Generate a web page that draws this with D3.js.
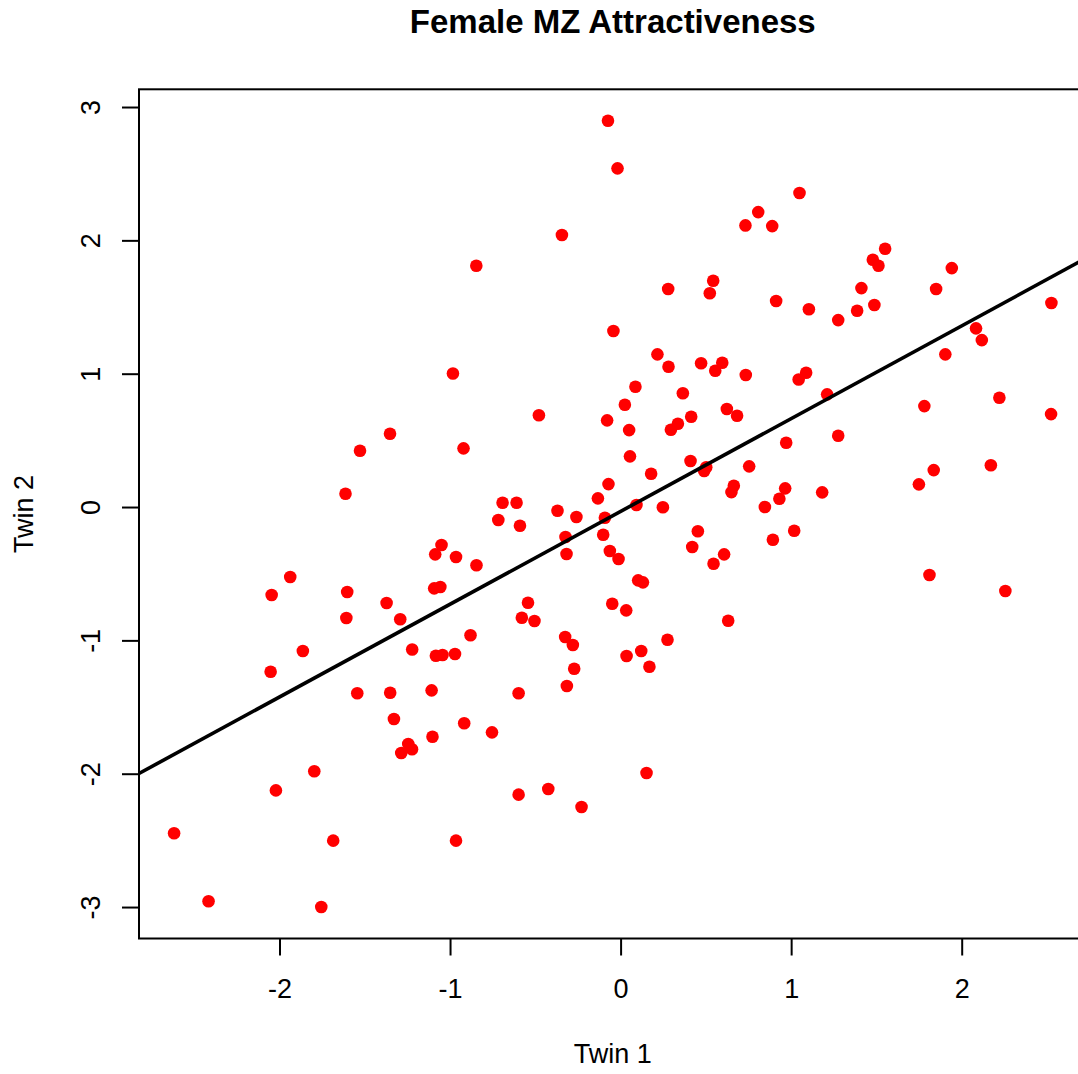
<!DOCTYPE html>
<html>
<head>
<meta charset="utf-8">
<script src="https://cdn.jsdelivr.net/npm/d3@7"></script>
<style>
  html, body { margin: 0; padding: 0; background: #fff; overflow: hidden; }
  svg { display: block; font-family: "Liberation Sans", Arial, Helvetica, sans-serif; }
</style>
</head>
<body>
<svg id="chart" width="1078" height="1074"></svg>
<script>
const chartTitle = "Female MZ Attractiveness";
const xLabel = "Twin 1";
const yLabel = "Twin 2";

const twin1 = [-0.074,-0.018,0.807,0.732,0.889,-0.344,-0.846,0.543,0.279,0.523,
  -0.042,0.216,0.281,0.472,0.596,0.555,0.734,-0.983,1.049,1.551,
  1.479,1.512,1.942,1.412,1.850,0.912,1.104,1.387,1.488,1.276,
  2.526,2.084,2.118,1.904,1.088,1.044,-1.352,-1.528,-1.613,-1.050,
  -1.087,-0.965,-1.937,-2.046,-1.603,-1.093,-1.057,-1.372,-1.608,-1.292,
  -1.863,-1.222,-1.083,-1.044,-0.971,0.087,0.365,0.025,0.623,0.683,
  0.414,-0.479,-0.079,0.050,0.336,0.295,-0.921,0.055,0.410,0.502,
  0.490,0.754,0.179,-0.071,0.664,0.650,-0.133,-0.692,-0.610,0.093,
  0.248,0.846,-0.370,-0.717,-0.259,-0.092,-0.590,0.453,-0.323,-0.102,
  0.420,-0.063,-0.317,-0.012,0.607,0.545,-0.845,0.103,0.131,
  -0.543,-0.049,0.033,-0.579,-0.505,0.631,-0.880,-0.325,-0.280,0.275,
  0.035,0.121,1.211,1.781,2.221,2.524,0.971,1.276,1.836,1.749,
  2.171,0.965,0.931,1.182,1.018,0.893,1.811,2.256,-2.052,-1.544,
  -1.351,-1.108,-1.329,-1.103,-1.245,-1.223,-1.286,-1.796,-2.021,-2.618,
  -1.685,-0.965,-2.416,-1.755,0.169,-0.272,-0.315,-0.598,-0.917,-0.754,
  0.152,-0.598,-0.424,-0.229];

const twin2 = [2.897,2.540,2.212,2.112,2.107,2.040,1.810,1.697,1.635,1.603,
  1.320,1.145,1.052,1.078,1.082,1.022,0.990,1.001,2.355,1.937,
  1.855,1.810,1.792,1.642,1.635,1.545,1.483,1.472,1.515,1.402,
  1.530,1.340,1.252,1.145,1.007,0.956,0.550,0.422,0.100,-0.285,
  -0.355,-0.375,-0.525,-0.660,-0.637,-0.610,-0.600,-0.720,-0.832,-0.842,
  -1.080,-1.069,-1.115,-1.110,-1.102,0.902,0.853,0.767,0.735,0.685,
  0.677,0.688,0.650,0.577,0.625,0.580,0.440,0.380,0.345,0.298,
  0.270,0.305,0.250,0.172,0.160,0.112,0.065,0.032,0.032,0.015,
  -0.002,0.000,-0.028,-0.097,-0.075,-0.080,-0.140,-0.182,-0.225,-0.208,
  -0.300,-0.330,-0.352,-0.390,-0.355,-0.425,-0.437,-0.550,-0.565,
  -0.718,-0.725,-0.775,-0.830,-0.855,-0.853,-0.962,-0.975,-1.035,-0.995,
  -1.117,-1.080,0.845,0.757,0.820,0.697,0.482,0.535,0.277,0.170,
  0.313,0.140,0.062,0.110,-0.178,-0.245,-0.510,-0.630,-1.235,-1.397,
  -1.393,-1.375,-1.590,-1.723,-1.777,-1.817,-1.845,-1.982,-2.125,-2.447,
  -2.502,-2.502,-2.957,-3.000,-1.198,-1.213,-1.342,-1.397,-1.622,-1.690,
  -1.995,-2.157,-2.115,-2.250];

const xTicks = [-2, -1, 0, 1, 2];
const yTicks = [-3, -2, -1, 0, 1, 2, 3];
const xTickLabels = ["-2", "-1", "0", "1", "2"];
const yTickLabels = ["-3", "-2", "-1", "0", "1", "2", "3"];

// fitted regression line (Twin 2 = intercept + slope * Twin 1)
const lineIntercept = -0.033;
const lineSlope = 0.696;

// ---------- layout ----------
const W = 1078, H = 1074;
const plot = { left: 139, right: 1086.5, top: 89.3, bottom: 938.5 };
const axisFont = 27;

function padRange(arr) {           // R-style 4% axis extension
  const [lo, hi] = d3.extent(arr);
  const p = (hi - lo) * 0.04;
  return [lo - p, hi + p];
}

const x = d3.scaleLinear().domain(padRange(twin1)).range([plot.left, plot.right]);
const y = d3.scaleLinear().domain(padRange(twin2)).range([plot.bottom, plot.top]);

const svg = d3.select("#chart");
svg.append("rect").attr("width", W).attr("height", H).attr("fill", "#fff");

svg.append("defs").append("clipPath").attr("id", "plotClip")
  .append("rect")
  .attr("x", plot.left).attr("y", plot.top)
  .attr("width", plot.right - plot.left).attr("height", plot.bottom - plot.top);

// points
const pts = twin1.map((v, i) => ({ a: v, b: twin2[i] }));
svg.append("g")
  .selectAll("circle")
  .data(pts)
  .join("circle")
  .attr("cx", d => x(d.a))
  .attr("cy", d => y(d.b))
  .attr("r", 6.3)
  .attr("fill", "#ff0000");

// regression line
const xd = x.domain();
svg.append("line")
  .attr("clip-path", "url(#plotClip)")
  .attr("x1", x(xd[0])).attr("y1", y(lineIntercept + lineSlope * xd[0]))
  .attr("x2", x(xd[1])).attr("y2", y(lineIntercept + lineSlope * xd[1]))
  .attr("stroke", "#000")
  .attr("stroke-width", 3.6);

// box
svg.append("rect")
  .attr("x", plot.left).attr("y", plot.top)
  .attr("width", plot.right - plot.left).attr("height", plot.bottom - plot.top)
  .attr("fill", "none").attr("stroke", "#000").attr("stroke-width", 2);

// x axis
const xAxis = d3.axisBottom(x)
  .tickValues(xTicks)
  .tickFormat((d, i) => xTickLabels[i])
  .tickSize(17);
const gx = svg.append("g")
  .attr("transform", `translate(0,${plot.bottom})`)
  .call(xAxis);
gx.select(".domain").remove();
gx.selectAll(".tick line").attr("stroke", "#000").attr("stroke-width", 2);
gx.selectAll(".tick text")
  .attr("font-size", axisFont).attr("fill", "#000")
  .attr("font-family", "Liberation Sans, Arial, sans-serif")
  .attr("dy", null).attr("y", 59.5);

// y axis
const yAxis = d3.axisLeft(y)
  .tickValues(yTicks)
  .tickFormat((d, i) => yTickLabels[i])
  .tickSize(17);
const gy = svg.append("g")
  .attr("transform", `translate(${plot.left},0)`)
  .call(yAxis);
gy.select(".domain").remove();
gy.selectAll(".tick line").attr("stroke", "#000").attr("stroke-width", 2);
gy.selectAll(".tick text")
  .attr("font-size", axisFont).attr("fill", "#000")
  .attr("font-family", "Liberation Sans, Arial, sans-serif")
  .attr("x", null).attr("dy", null)
  .attr("text-anchor", "middle")
  .attr("transform", "translate(-39,0) rotate(-90)");

// y-axis label
svg.append("text")
  .attr("transform", `translate(33,${(plot.top + plot.bottom) / 2}) rotate(-90)`)
  .attr("text-anchor", "middle")
  .attr("font-size", axisFont)
  .attr("fill", "#000")
  .text(yLabel);

// x-axis label
svg.append("text")
  .attr("x", (plot.left + plot.right) / 2)
  .attr("y", 1063)
  .attr("text-anchor", "middle")
  .attr("font-size", axisFont)
  .attr("fill", "#000")
  .text(xLabel);

// title
svg.append("text")
  .attr("x", (plot.left + plot.right) / 2)
  .attr("y", 33)
  .attr("text-anchor", "middle")
  .attr("font-size", 33)
  .attr("font-weight", "bold")
  .attr("fill", "#000")
  .text(chartTitle);
</script>
</body>
</html>
